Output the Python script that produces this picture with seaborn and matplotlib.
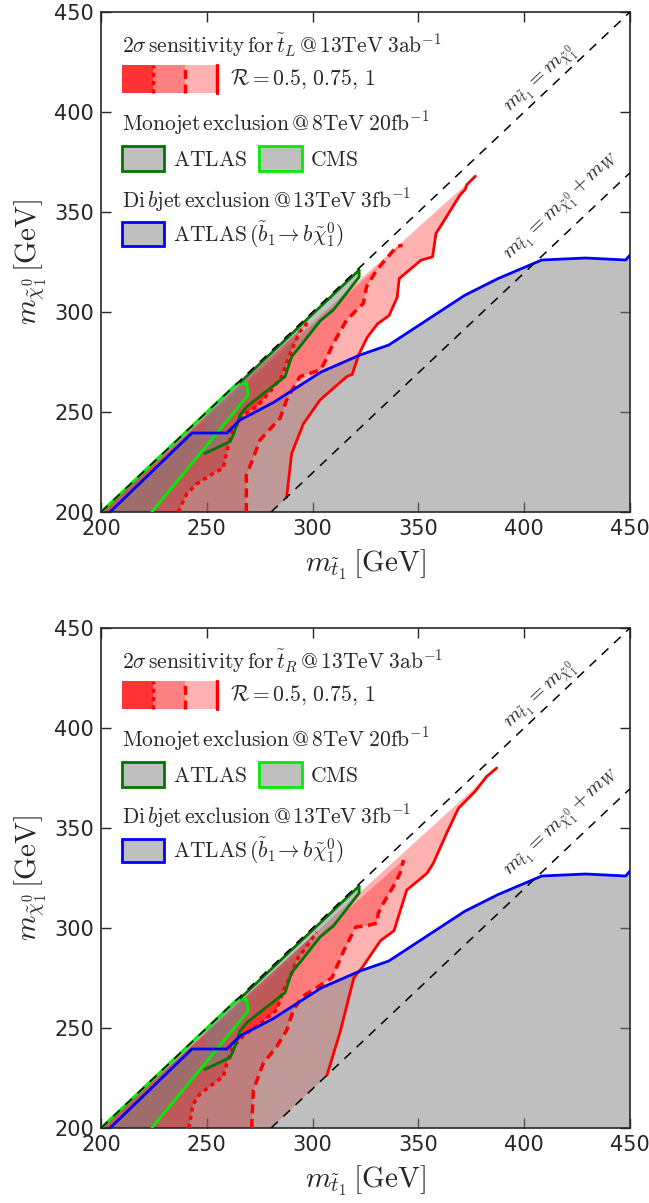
import numpy as np
import pandas as pd
import matplotlib
matplotlib.use("Agg")
import matplotlib.pyplot as plt
import seaborn as sns
from matplotlib.patches import Rectangle
from matplotlib.lines import Line2D

# ---------------- data (GeV) ----------------
M_W = 80.4
x_range = [200, 450]
y_range = [200, 450]
ticks = [200, 250, 300, 350, 400, 450]

# ATLAS di-b-jet exclusion (13 TeV, 3 fb^-1)
dibjet_x = [204.3, 243.0, 259.5, 265.7, 281.4, 304.0, 322.4, 336.0, 371.8, 387.6, 408.3, 429.0, 448.0, 450.0]
dibjet_y = [200.0, 239.5, 239.5, 246.0, 254.7, 270.0, 278.5, 283.5, 308.3, 316.7, 326.0, 327.0, 326.0, 328.5]

# ATLAS monojet exclusion (8 TeV, 20 fb^-1)
mono_atlas_x = [249.1, 261.0, 262.5, 265.7, 268.9, 287.0, 290.1, 294.0, 303.6, 309.8, 322.0]
mono_atlas_y = [229.3, 235.2, 238.5, 248.5, 252.7, 267.7, 277.7, 282.7, 295.6, 301.0, 317.5]

# CMS monojet exclusion (8 TeV, 20 fb^-1)
mono_cms_x = [224.0, 269.6, 268.9]
mono_cms_y = [200.0, 258.5, 264.3]

# 2 sigma sensitivity, stop_L, R = 0.5, 0.75, 1
tL_r050_x = [236.5, 240.5, 245.2, 253.0, 257.8, 259.4, 262.0, 267.2, 273.6, 279.9, 285.4, 287.7, 290.1, 294.0, 298.0]
tL_r050_y = [200.0, 209.0, 214.0, 219.3, 222.0, 230.0, 240.0, 248.5, 252.7, 260.2, 267.7, 274.3, 281.0, 290.2, 295.0]
tL_r075_x = [268.7, 268.7, 271.9, 275.1, 284.6, 287.7, 294.0, 303.5, 305.2, 309.8, 316.1, 324.0, 325.5, 330.3, 339.7, 342.5]
tL_r075_y = [200.0, 218.5, 226.8, 236.0, 246.8, 256.0, 267.7, 271.0, 273.8, 284.3, 296.0, 304.3, 312.7, 321.0, 332.7, 333.4]
tL_r100_x = [287.7, 290.1, 295.6, 303.5, 316.1, 318.7, 321.9, 325.8, 330.6, 336.1, 340.0, 340.9, 351.2, 356.7, 358.3, 362.3, 369.7, 372.1, 372.9, 376.9]
tL_r100_y = [207.3, 229.3, 244.0, 256.0, 267.7, 268.8, 278.9, 287.3, 294.0, 298.2, 307.4, 316.7, 325.9, 327.6, 339.3, 346.0, 358.6, 361.2, 363.7, 367.9]

# 2 sigma sensitivity, stop_R, R = 0.5, 0.75, 1
tR_r050_x = [241.5, 243.6, 246.8, 253.0, 257.8, 259.4, 262.0, 267.2, 275.0, 283.0, 286.2, 290.1, 292.5, 298.0, 302.0]
tR_r050_y = [200.0, 212.0, 217.0, 222.0, 225.7, 232.0, 240.0, 246.0, 252.0, 259.0, 269.0, 277.3, 284.0, 292.0, 298.0]
tR_r075_x = [271.2, 272.0, 276.7, 283.0, 287.8, 290.9, 295.5, 302.0, 309.2, 314.7, 320.3, 325.8, 330.6, 331.0, 333.4, 338.1, 341.3, 343.0]
tR_r075_y = [200.0, 219.0, 232.3, 240.7, 249.0, 259.0, 266.0, 270.2, 275.2, 288.6, 300.4, 301.2, 302.5, 307.3, 312.3, 320.7, 327.3, 334.0]
tR_r100_x = [306.8, 313.1, 319.5, 323.4, 332.1, 338.5, 341.7, 344.5, 354.0, 357.0, 363.3, 368.9, 371.2, 376.7, 382.2, 387.0]
tR_r100_y = [226.4, 248.4, 275.2, 280.2, 293.7, 298.7, 309.6, 319.0, 327.3, 332.3, 347.3, 359.8, 362.3, 368.2, 375.7, 380.0]

# ---------------- style ----------------
sns.set_style("ticks")
plt.rcParams["font.family"] = ["DejaVu Sans"]
plt.rcParams["mathtext.fontset"] = "cm"
plt.rcParams["xtick.direction"] = "in"
plt.rcParams["ytick.direction"] = "in"

RED = "#ff0000"
GRAY = "#808080"
BOX_GRAY = "#bfbfbf"
DKGREEN = "#007700"
LIME = "#00ee00"
BLUE = "#0000ff"

fig = plt.figure(figsize=(6.49, 12.03), dpi=100)
W, H = 649.0, 1203.0
ax_top = fig.add_axes([101 / W, 1 - 512 / H, 529 / W, 500 / H])
ax_bot = fig.add_axes([101 / W, 1 - 1128 / H, 529 / W, 500 / H])


def red_region(xs, ys):
    px = [x_range[0]]
    py = [y_range[0]]
    if ys[0] > y_range[0]:
        px.append(y_range[0] + M_W)
        py.append(y_range[0])
    px += list(xs)
    py += list(ys)
    return px, py


def line(ax, xs, ys, color, ls="-", lw=2.0, z=5):
    df = pd.DataFrame({"x": xs, "y": ys})
    sns.lineplot(data=df, x="x", y="y", sort=False, estimator=None, ax=ax,
                 color=color, linestyle=ls, linewidth=lw, zorder=z)


def panel(ax, r050, r075, r100, chir):
    # red sensitivity regions
    for (xs, ys), a in zip([r100, r075, r050], [0.3, 0.3, 0.6]):
        px, py = red_region(xs, ys)
        ax.fill(px, py, color=RED, alpha=a, lw=0, zorder=1)
    # di-bjet gray region
    ax.fill(dibjet_x + [x_range[1], dibjet_x[0]], dibjet_y + [y_range[0], y_range[0]],
            color=GRAY, alpha=0.5, lw=0, zorder=2)
    # monojet regions
    ax.fill(mono_atlas_x + [mono_atlas_x[-1], mono_atlas_x[0]],
            mono_atlas_y + [mono_atlas_x[-1] - 1, mono_atlas_x[0]],
            color=GRAY, alpha=0.5, lw=0, zorder=2)
    ax.fill(mono_cms_x + [mono_cms_y[-1], x_range[0]],
            mono_cms_y + [mono_cms_y[-1], y_range[0]],
            color=GRAY, alpha=0.5, lw=0, zorder=2)

    # boundary lines
    line(ax, r050[0], r050[1], RED, ls=(0, (1.2, 1.2)), lw=2.5, z=4)
    line(ax, r075[0], r075[1], RED, ls=(0, (2.6, 1.6)), lw=2.5, z=4)
    line(ax, r100[0], r100[1], RED, ls="-", lw=2.0, z=4)
    line(ax, mono_cms_x + [mono_cms_y[-1], x_range[0]], mono_cms_y + [mono_cms_y[-1], y_range[0]],
         LIME, lw=2.0, z=5)
    line(ax, mono_atlas_x + [mono_atlas_x[-1], 266.0], mono_atlas_y + [mono_atlas_x[-1] - 1, 265.0],
         DKGREEN, lw=2.0, z=5)
    line(ax, dibjet_x, dibjet_y, BLUE, lw=2.0, z=6)

    # kinematic lines
    ax.plot(x_range, y_range, color="k", ls=(0, (6, 5)), lw=1.1, zorder=7)
    ax.plot([y_range[0] + M_W, x_range[1]], [y_range[0], x_range[1] - M_W],
            color="k", ls=(0, (6, 5)), lw=1.1, zorder=7)
    ax.text(408.6, 415.7, r"$m_{\tilde t_1}=m_{\tilde\chi_1^0}$", rotation=45,
            transform_rotates_text=True, rotation_mode="anchor",
            ha="center", va="center", fontsize=15, zorder=8)
    ax.text(418.0, 352.8, r"$m_{\tilde t_1}=m_{\tilde\chi_1^0}+m_W$", rotation=45,
            transform_rotates_text=True, rotation_mode="anchor",
            ha="center", va="center", fontsize=15, zorder=8)

    ax.set_xlim(x_range)
    ax.set_ylim(y_range)
    ax.set_xticks(ticks)
    ax.set_yticks(ticks)
    ax.tick_params(axis="both", which="major", direction="in", length=7, width=1,
                   labelsize=15, top=True, right=True, pad=5)
    for s in ax.spines.values():
        s.set_visible(True)
        s.set_linewidth(1.2)
    ax.set_xlabel(r"$m_{\tilde t_1}\,[\mathrm{GeV}]$", fontsize=21, labelpad=6)
    ax.set_ylabel(r"$m_{\tilde\chi_1^0}\,[\mathrm{GeV}]$", fontsize=21, labelpad=4)

    # ---- custom legend (axes fraction) ----
    T = ax.transAxes
    fs = 15.5
    ax.text(0.039, 0.934, r"$2\sigma\,\mathrm{sensitivity\,for}\,\tilde t_%s\,\mathrm{@}\,13\mathrm{TeV}\;3\mathrm{ab}^{-1}$" % chir,
            transform=T, fontsize=fs, va="center", ha="left", zorder=9)
    y0, hgt, wseg = 0.8386, 0.0556, 0.0599
    for i, c in enumerate(["#ff3333", "#ff8080", "#ffb3b3"]):
        ax.add_patch(Rectangle((0.039 + i * wseg, y0), wseg, hgt, transform=T,
                               facecolor=c, edgecolor="none", zorder=9))
    for i, ls in enumerate([(0, (1.2, 1.2)), (0, (2.6, 1.6)), "-"]):
        xx = 0.039 + (i + 1) * wseg
        ax.add_line(Line2D([xx, xx], [y0, y0 + hgt], transform=T, color=RED,
                           ls=ls, lw=2.5, zorder=10))
    ax.text(0.244, 0.866, r"$\mathcal{R}=0.5,\,0.75,\,1$", transform=T, fontsize=fs,
            va="center", ha="left", zorder=9)
    ax.text(0.039, 0.778, r"$\mathrm{Monojet\,exclusion\,@\,8TeV\;20fb}^{-1}$", transform=T,
            fontsize=fs, va="center", ha="left", zorder=9)
    ax.add_patch(Rectangle((0.039, 0.6826), 0.080, 0.049, transform=T, facecolor=BOX_GRAY,
                           edgecolor=DKGREEN, lw=2, zorder=9))
    ax.text(0.137, 0.705, r"$\mathrm{ATLAS}$", transform=T, fontsize=fs, va="center", ha="left", zorder=9)
    ax.add_patch(Rectangle((0.298, 0.6826), 0.082, 0.049, transform=T, facecolor=BOX_GRAY,
                           edgecolor=LIME, lw=2, zorder=9))
    ax.text(0.395, 0.705, r"$\mathrm{CMS}$", transform=T, fontsize=fs, va="center", ha="left", zorder=9)
    ax.text(0.039, 0.624, r"$\mathrm{Di}\,b\mathrm{jet\,exclusion\,@\,13TeV\;3fb}^{-1}$", transform=T,
            fontsize=fs, va="center", ha="left", zorder=9)
    ax.add_patch(Rectangle((0.039, 0.532), 0.080, 0.047, transform=T, facecolor=BOX_GRAY,
                           edgecolor=BLUE, lw=2, zorder=9))
    ax.text(0.137, 0.554, r"$\mathrm{ATLAS}\,(\tilde b_1\!\rightarrow b\tilde\chi_1^0)$", transform=T,
            fontsize=fs, va="center", ha="left", zorder=9)


panel(ax_top, (tL_r050_x, tL_r050_y), (tL_r075_x, tL_r075_y), (tL_r100_x, tL_r100_y), "L")
panel(ax_bot, (tR_r050_x, tR_r050_y), (tR_r075_x, tR_r075_y), (tR_r100_x, tR_r100_y), "R")

fig.savefig("out.png", dpi=100)
